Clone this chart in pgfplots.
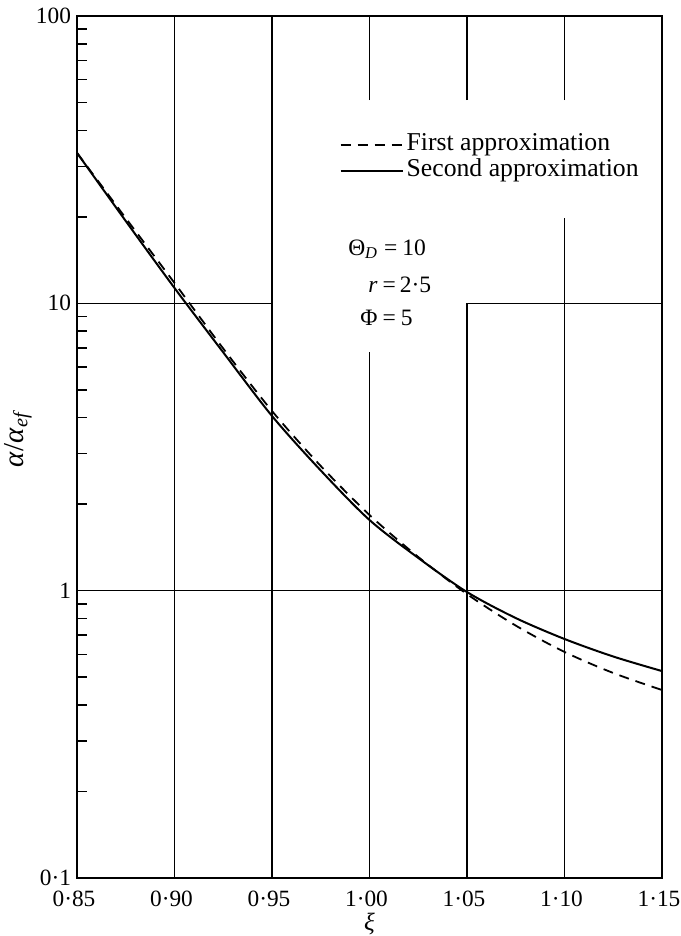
\documentclass[border=0pt]{standalone}
\usepackage{fontspec}
\setmainfont{Liberation Serif}
\usepackage{pgfplots}
\pgfplotsset{compat=1.18}
\begin{document}
\begin{tikzpicture}
\begin{axis}[
  scale only axis,
  width=292.5bp, height=431bp,
  xmin=0.85, xmax=1.15,
  ymode=log, ymin=0.1, ymax=100,
  axis line style={line width=0.8bp},
  xtick={0.85,0.90,0.95,1.00,1.05,1.10,1.15},
  xticklabels={0·85,0·90,0·95,1·00,1·05,1·10,1·15},
  ytick={0.1,1,10,100},
  yticklabels={0·1,1,10,100},
  minor ytick={0.2,0.3,0.4,0.5,0.6,0.7,0.8,0.9,2,3,4,5,6,7,8,9,20,30,40,50,60,70,80,90},
  major tick length=0pt,
  minor tick length=5bp,
  ytick pos=left,
  xtick pos=bottom,
  tick align=inside,
  minor tick style={line width=0.7bp, black},
  ticklabel style={font=\fontsize{11.7}{14}\selectfont},
  xticklabel style={yshift=-3bp, xshift=-1.5bp},
  yticklabel style={xshift=0.5bp},
  xlabel={\textit{ξ}},
  ylabel={\textit{α}/\textit{α}\textsubscript{\textit{ef}}},
  xlabel style={at={(axis description cs:0.5,-0.053)}, anchor=center, font=\fontsize{12.5}{14}\selectfont},
  ylabel style={at={(axis description cs:-0.101,0.51)}, anchor=center, font=\fontsize{14.5}{16}\selectfont},
  legend style={draw=none, fill=none, inner sep=0pt, outer sep=0pt,
    at={(axis description cs:0.449,0.8645)}, anchor=north west,
    font=\fontsize{12.9}{14}\selectfont, row sep=1bp,
    nodes={inner ysep=0.5bp, inner xsep=1.5bp, text height=8.5bp, text depth=2.5bp}},
  legend cell align=left,
  legend image code/.code={\draw[#1] (0bp,0bp) -- (31bp,0bp);},
  gridl/.style={black, line width=0.6bp, forget plot},
]
% partial grid lines
\addplot[gridl] coordinates {(0.90,0.1) (0.90,100)};
\addplot[gridl] coordinates {(0.95,0.1) (0.95,100)};
\addplot[gridl] coordinates {(1.00,51) (1.00,100)};
\addplot[gridl] coordinates {(1.00,0.1) (1.00,6.77)};
\addplot[gridl] coordinates {(1.05,51) (1.05,100)};
\addplot[gridl] coordinates {(1.05,0.1) (1.05,10)};
\addplot[gridl] coordinates {(1.10,51) (1.10,100)};
\addplot[gridl] coordinates {(1.10,0.1) (1.10,19.8)};
\addplot[gridl] coordinates {(0.85,10) (0.95,10)};
\addplot[gridl] coordinates {(1.05,10) (1.15,10)};
\addplot[gridl] coordinates {(0.85,1) (1.15,1)};
% first approximation (dashed)
\addplot[black, line width=0.9bp, dash pattern=on 5bp off 3.5bp, smooth] coordinates {
 (0.85,33.4) (0.875,19.8) (0.90,11.77) (0.925,6.96) (0.95,4.22) (0.975,2.716)
 (1.00,1.834) (1.025,1.31) (1.05,0.973) (1.075,0.756) (1.10,0.612) (1.125,0.517) (1.15,0.451)};
\addlegendentry{First approximation}
% second approximation (solid)
\addplot[black, line width=1bp, smooth] coordinates {
 (0.85,33.4) (0.875,19.34) (0.90,11.31) (0.925,6.75) (0.95,4.055) (0.975,2.62)
 (1.00,1.762) (1.025,1.30) (1.05,0.989) (1.075,0.803) (1.10,0.679) (1.125,0.590) (1.15,0.525)};
\addlegendentry{Second approximation}
\node[anchor=base west, inner sep=0pt, font=\fontsize{11.8}{13}\selectfont] at (axis description cs:0.463,0.7227) {Θ\textsubscript{\textit{D}}\hspace{3bp}=\hspace{2.5bp}10};
\node[anchor=base west, inner sep=0pt, font=\fontsize{11.8}{13}\selectfont] at (axis description cs:0.4974,0.6798) {\textit{r}\hspace{2.5bp}=\hspace{2bp}2·5};
\node[anchor=base west, inner sep=0pt, font=\fontsize{11.8}{13}\selectfont] at (axis description cs:0.4838,0.6415) {Φ\hspace{2.5bp}=\hspace{2.5bp}5};
\coordinate (ll) at (rel axis cs:0,0);
\coordinate (ur) at (rel axis cs:1,1);
\end{axis}
\pgfresetboundingbox
\path[use as bounding box] ([shift={(-38.5bp,-29bp)}]ll) rectangle ([shift={(9.5bp,8bp)}]ur);
\end{tikzpicture}
\end{document}
